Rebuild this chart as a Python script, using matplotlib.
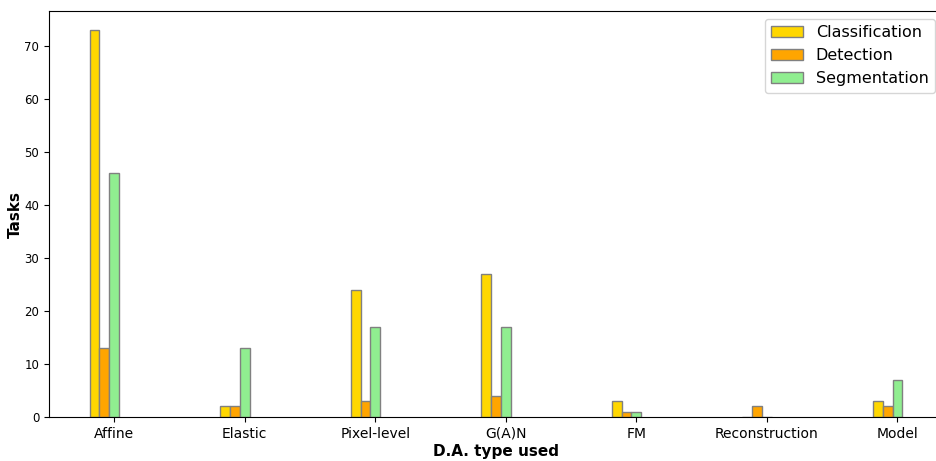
import numpy as np
import matplotlib
matplotlib.use("Agg")
import matplotlib.pyplot as plt

# counts of tasks per data augmentation type
categories = ["Affine", "Elastic", "Pixel-level", "G(A)N", "FM", "Reconstruction", "Model"]
classification = [73, 2, 24, 27, 3, 0, 3]
detection = [13, 2, 3, 4, 1, 2, 2]
segmentation = [46, 13, 17, 17, 1, 0, 7]

bar_width = 0.075
r1 = np.arange(len(categories))
r2 = r1 + bar_width
r3 = r2 + bar_width

fig = plt.figure(figsize=(9.36, 4.61), dpi=100)
# the axes runs slightly past the right edge of the canvas
ax = fig.add_axes([49 / 936, 44 / 461, 894 / 936, 406 / 461])

ax.bar(r1, classification, width=bar_width, color="#FFD700", edgecolor="grey", label="Classification")
ax.bar(r2, detection, width=bar_width, color="#FFA500", edgecolor="grey", label="Detection")
ax.bar(r3, segmentation, width=bar_width, color="#90EE90", edgecolor="grey", label="Segmentation")

ax.set_xticks(r3)
ax.set_xticklabels(categories, fontsize=10)
ax.tick_params(axis="y", labelsize=8.5)
ax.set_ylim(0, 76.65)
ax.set_yticks(range(0, 71, 10))

ax.set_xlabel("D.A. type used", fontweight="bold", fontsize=11, labelpad=2)
ax.set_ylabel("Tasks", fontweight="bold", fontsize=11, labelpad=1)
ax.legend(loc="upper right", fontsize=11.5)

fig.savefig("out.png", dpi=100)
